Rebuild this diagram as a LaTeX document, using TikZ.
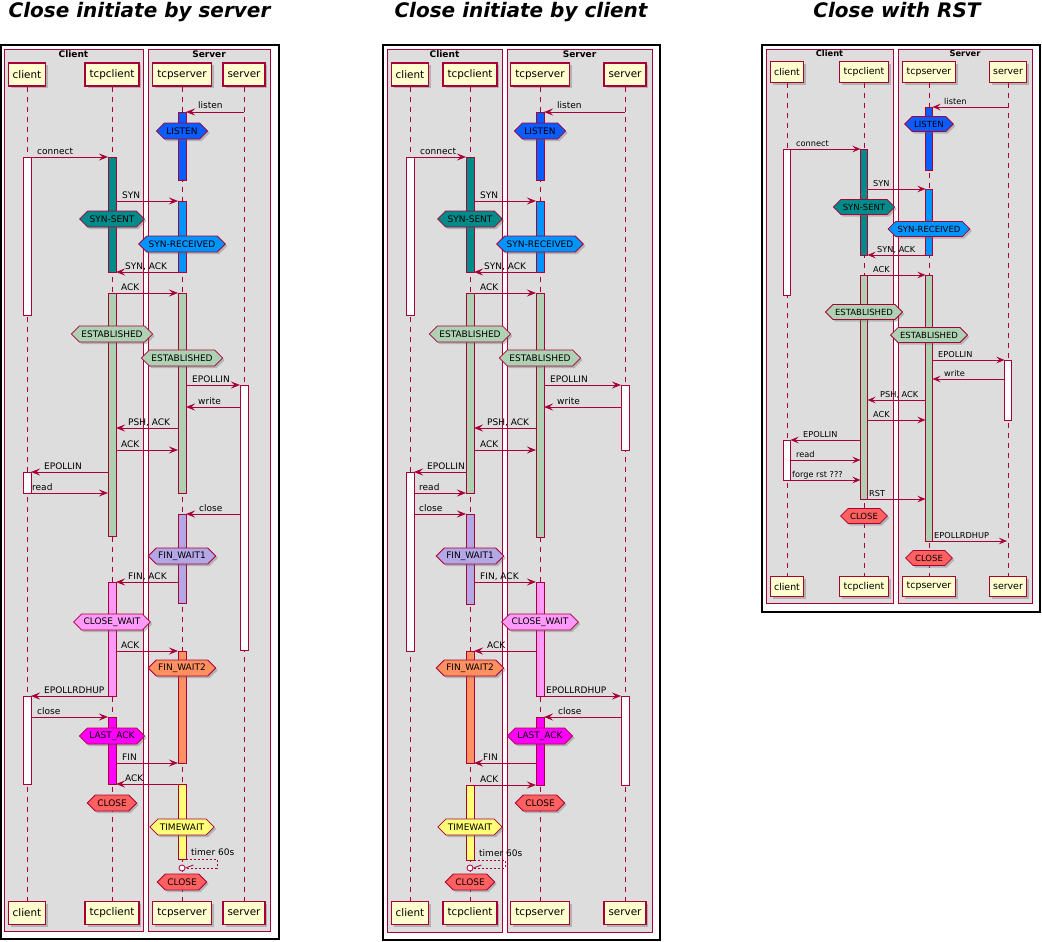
\documentclass[tikz,border=0pt]{standalone}
\usepackage{fontspec}
\setmainfont{DejaVu Sans}[BoldFont={DejaVu Sans Bold},ItalicFont={DejaVu Sans Oblique},BoldItalicFont={DejaVu Sans Bold Oblique}]
\usetikzlibrary{calc,shapes.symbols,shadows,arrows.meta}

\definecolor{ucred}{HTML}{A80036}
\definecolor{partfill}{HTML}{FEFECE}
\definecolor{boxfill}{HTML}{DDDDDD}
\definecolor{stlisten}{HTML}{0A5CFF}
\definecolor{stsynsent}{HTML}{008B8B}
\definecolor{stsynrecv}{HTML}{0094FF}
\definecolor{stestab}{HTML}{ADD1B2}
\definecolor{stfinwaita}{HTML}{B4A7E5}
\definecolor{stclosewait}{HTML}{FF99FA}
\definecolor{stfinwaitb}{HTML}{FF9060}
\definecolor{stlastack}{HTML}{FF00FF}
\definecolor{stclose}{HTML}{FF6060}
\definecolor{sttimewait}{HTML}{FFFF77}

\tikzset{
  frame/.style={draw=black, line width=1.6pt},
  grpbox/.style={draw=ucred, fill=boxfill, line width=0.8pt},
  grplabel/.style={font=\fontsize{9}{10}\selectfont\bfseries, anchor=base, inner sep=0pt},
  title/.style={font=\fontsize{20}{24}\selectfont\bfseries\itshape, anchor=base, inner sep=0pt},
  part/.style={draw=ucred, fill=partfill, line width=1.1pt, minimum height=23pt,
    inner xsep=4.5pt, inner ysep=0pt, font=\fontsize{10.4}{12}\selectfont,
    drop shadow={shadow xshift=2.5pt, shadow yshift=-2.5pt, opacity=0.35, fill=black!60}},
  lifeline/.style={draw=ucred, line width=0.8pt, dash pattern=on 5pt off 5pt},
  actbox/.style={draw=ucred, line width=0.8pt},
  msg/.style={draw=ucred, line width=0.9pt, -{Stealth[length=9pt,width=7pt,inset=3.5pt]}},
  msglabel/.style={font=\fontsize{9}{10}\selectfont, anchor=base west, inner sep=0pt},
  hexa/.style={signal, signal to=west and east, draw=ucred, line width=0.8pt,
    minimum height=16pt, inner xsep=2pt, inner ysep=0pt, font=\fontsize{9}{10}\selectfont,
    drop shadow={shadow xshift=2pt, shadow yshift=-2pt, opacity=0.35, fill=black!60}},
  selfmsg/.style={draw=ucred, line width=0.8pt, dash pattern=on 2pt off 2pt},
  endcirc/.style={circle, draw=ucred, fill=white, line width=0.8pt, minimum size=6pt, inner sep=0pt}
}

\newcounter{lbl}
\newcommand{\bw}{4}
% activation bar: lifeline, from y, to y, colour
\newcommand{\actbar}[4]{\draw[actbox, fill=#4] ($(#1 |- 0,#2)+(-\bw,0)$) rectangle ($(#1 |- 0,#3)+(\bw,0)$);}
% message: from, dx, to, dx, y, label x, label
\newcommand{\sendmsg}[7]{\draw[msg] ($(#1 |- 0,#5)+(#2,0)$) -- ($(#3 |- 0,#5)+(#4,0)$);
  \stepcounter{lbl}\node[msglabel] (lbl\arabic{lbl}) at (#6,#5-3) {#7};}
% state hexagon: name, lifeline, y, colour, text
\newcommand{\tcpstate}[5]{\node[hexa, fill=#4] (#1) at (#2 |- 0,#3) {#5};}

\begin{document}
\begin{tikzpicture}[x=1pt,y=-1pt]
\useasboundingbox (0,0) rectangle (1042,942);

%% close initiate by server
\node[title] (ta) at (139.5,17.5) {Close initiate by server};
\draw[frame] (1,45) rectangle (279,939);
\draw[grpbox] (4,49) rectangle (143,931);
\draw[grpbox] (148,49) rectangle (270,931);
\node[grplabel] (gaC) at (73.5,57.5) {Client};
\node[grplabel] (gaS) at (209,57.5) {Server};
\begin{scope}[every node/.style={part}]
\node (aC) at (27,74.5) {client};
\node (aTC) at (112,74.5) {tcpclient};
\node (aTS) at (182,74.5) {tcpserver};
\node (aS) at (244,74.5) {server};
\node (aC2) at (27,913) {client};
\node (aTC2) at (112,913) {tcpclient};
\node (aTS2) at (182,913) {tcpserver};
\node (aS2) at (244,913) {server};
\end{scope}
\draw[lifeline] (aC) -- (aC2);
\draw[lifeline] (aTC) -- (aTC2);
\draw[lifeline] (aTS) -- (aTS2);
\draw[lifeline] (aS) -- (aS2);
\actbar{aTS}{112}{180}{stlisten}
\actbar{aC}{157}{315}{white}
\actbar{aTC}{157}{272}{stsynsent}
\actbar{aTS}{201}{272}{stsynrecv}
\actbar{aTC}{293}{536}{stestab}
\actbar{aTS}{293}{493}{stestab}
\actbar{aS}{385}{650}{white}
\actbar{aC}{472}{493}{white}
\actbar{aTS}{514}{603}{stfinwaita}
\actbar{aTC}{582}{696}{stclosewait}
\actbar{aTS}{651}{763}{stfinwaitb}
\actbar{aC}{696}{784}{white}
\actbar{aTC}{717}{784}{stlastack}
\actbar{aTS}{784}{859}{sttimewait}
\sendmsg{aS}{0}{aTS}{4}{112}{198}{listen}
\sendmsg{aC}{4}{aTC}{-4}{157}{37}{connect}
\sendmsg{aTC}{4}{aTS}{-4}{201}{122}{SYN}
\sendmsg{aTS}{-4}{aTC}{4}{272}{125}{SYN, ACK}
\sendmsg{aTC}{4}{aTS}{-4}{293}{121}{ACK}
\sendmsg{aTS}{4}{aS}{-4}{385}{192}{EPOLLIN}
\sendmsg{aS}{-4}{aTS}{4}{407}{198}{write}
\sendmsg{aTS}{-4}{aTC}{4}{428}{128}{PSH, ACK}
\sendmsg{aTC}{4}{aTS}{-4}{450}{121}{ACK}
\sendmsg{aTC}{-4}{aC}{4}{472}{44}{EPOLLIN}
\sendmsg{aC}{4}{aTC}{-4}{493}{32}{read}
\sendmsg{aS}{-4}{aTS}{4}{514}{199}{close}
\sendmsg{aTS}{-4}{aTC}{4}{582}{128}{FIN, ACK}
\sendmsg{aTC}{4}{aTS}{-4}{651}{121}{ACK}
\sendmsg{aTC}{-4}{aC}{4}{696}{44}{EPOLLRDHUP}
\sendmsg{aC}{4}{aTC}{-4}{717}{37}{close}
\sendmsg{aTC}{4}{aTS}{-4}{763}{122}{FIN}
\sendmsg{aTS}{-4}{aTC}{4}{784}{125}{ACK}
\node[endcirc] (aTe) at (aTS |- 0,868) {};
\draw[selfmsg] ($(aTS |- 0,859)+(4,0)$) -- (217,859) -- (217,868) -- (aTe);
\draw[ucred, line width=0.8pt] (aTe.east) -- ++(8,-3);
\node[msglabel] (aTl) at (191,855) {timer 60s};
\tcpstate{aH1}{aTS}{131}{stlisten}{LISTEN}
\tcpstate{aH2}{aTC}{219}{stsynsent}{SYN-SENT}
\tcpstate{aH3}{aTS}{244}{stsynrecv}{SYN-RECEIVED}
\tcpstate{aH4}{aTC}{334}{stestab}{ESTABLISHED}
\tcpstate{aH5}{aTS}{358}{stestab}{ESTABLISHED}
\tcpstate{aH6}{aTS}{556}{stfinwaita}{FIN\_WAIT1}
\tcpstate{aH7}{aTC}{622}{stclosewait}{CLOSE\_WAIT}
\tcpstate{aH8}{aTS}{668}{stfinwaitb}{FIN\_WAIT2}
\tcpstate{aH9}{aTC}{736}{stlastack}{LAST\_ACK}
\tcpstate{aH10}{aTC}{803}{stclose}{CLOSE}
\tcpstate{aH11}{aTS}{827}{sttimewait}{TIMEWAIT}
\tcpstate{aH12}{aTS}{882}{stclose}{CLOSE}

%% close initiate by client
\node[title] (tb) at (521,17.5) {Close initiate by client};
\draw[frame] (383,45) rectangle (660,940);
\draw[grpbox] (387,49) rectangle (502,932);
\draw[grpbox] (507,49) rectangle (652,932);
\node[grplabel] (gbC) at (444.5,57.5) {Client};
\node[grplabel] (gbS) at (579.5,57.5) {Server};
\begin{scope}[every node/.style={part}]
\node (bC) at (410,74.5) {client};
\node (bTC) at (470,74.5) {tcpclient};
\node (bTS) at (540,74.5) {tcpserver};
\node (bS) at (625,74.5) {server};
\node (bC2) at (410,913) {client};
\node (bTC2) at (470,913) {tcpclient};
\node (bTS2) at (540,913) {tcpserver};
\node (bS2) at (625,913) {server};
\end{scope}
\draw[lifeline] (bC) -- (bC2);
\draw[lifeline] (bTC) -- (bTC2);
\draw[lifeline] (bTS) -- (bTS2);
\draw[lifeline] (bS) -- (bS2);
\actbar{bTS}{112}{180}{stlisten}
\actbar{bC}{157}{315}{white}
\actbar{bTC}{157}{272}{stsynsent}
\actbar{bTS}{201}{272}{stsynrecv}
\actbar{bTC}{293}{493}{stestab}
\actbar{bTS}{293}{537}{stestab}
\actbar{bS}{385}{450}{white}
\actbar{bC}{472}{651}{white}
\actbar{bTC}{514}{604}{stfinwaita}
\actbar{bTS}{582}{696}{stclosewait}
\actbar{bTC}{651}{763}{stfinwaitb}
\actbar{bS}{696}{785}{white}
\actbar{bTS}{717}{785}{stlastack}
\actbar{bTC}{785}{860}{sttimewait}
\sendmsg{bS}{0}{bTS}{4}{112}{557}{listen}
\sendmsg{bC}{4}{bTC}{-4}{157}{420}{connect}
\sendmsg{bTC}{4}{bTS}{-4}{201}{480}{SYN}
\sendmsg{bTS}{-4}{bTC}{4}{272}{484}{SYN, ACK}
\sendmsg{bTC}{4}{bTS}{-4}{293}{480}{ACK}
\sendmsg{bTS}{4}{bS}{-4}{385}{550}{EPOLLIN}
\sendmsg{bS}{-4}{bTS}{4}{407}{557}{write}
\sendmsg{bTS}{-4}{bTC}{4}{428}{487}{PSH, ACK}
\sendmsg{bTC}{4}{bTS}{-4}{450}{480}{ACK}
\sendmsg{bTC}{-4}{bC}{4}{472}{427}{EPOLLIN}
\sendmsg{bC}{4}{bTC}{-4}{493}{419}{read}
\sendmsg{bC}{4}{bTC}{-4}{514}{419}{close}
\sendmsg{bTC}{4}{bTS}{-4}{582}{480}{FIN, ACK}
\sendmsg{bTS}{-4}{bTC}{4}{651}{487}{ACK}
\sendmsg{bTS}{4}{bS}{-4}{696}{546}{EPOLLRDHUP}
\sendmsg{bS}{-4}{bTS}{4}{717}{558}{close}
\sendmsg{bTS}{-4}{bTC}{4}{763}{483}{FIN}
\sendmsg{bTC}{4}{bTS}{-4}{785}{480}{ACK}
\node[endcirc] (bTe) at (bTC |- 0,868) {};
\draw[selfmsg] ($(bTC |- 0,860)+(4,0)$) -- (505,860) -- (505,868) -- (bTe);
\draw[ucred, line width=0.8pt] (bTe.east) -- ++(8,-3);
\node[msglabel] (bTl) at (479,856) {timer 60s};
\tcpstate{bH1}{bTS}{131}{stlisten}{LISTEN}
\tcpstate{bH2}{bTC}{219}{stsynsent}{SYN-SENT}
\tcpstate{bH3}{bTS}{244}{stsynrecv}{SYN-RECEIVED}
\tcpstate{bH4}{bTC}{334}{stestab}{ESTABLISHED}
\tcpstate{bH5}{bTS}{358}{stestab}{ESTABLISHED}
\tcpstate{bH6}{bTC}{556}{stfinwaita}{FIN\_WAIT1}
\tcpstate{bH7}{bTS}{622}{stclosewait}{CLOSE\_WAIT}
\tcpstate{bH8}{bTC}{668}{stfinwaitb}{FIN\_WAIT2}
\tcpstate{bH9}{bTS}{736}{stlastack}{LAST\_ACK}
\tcpstate{bH10}{bTS}{803}{stclose}{CLOSE}
\tcpstate{bH11}{bTC}{827}{sttimewait}{TIMEWAIT}
\tcpstate{bH12}{bTC}{882}{stclose}{CLOSE}

%% close with RST
\node[title] (tc) at (897,17.5) {Close with RST};
\draw[frame] (762,45) rectangle (1040,612);
\begin{scope}[msglabel/.append style={font=\fontsize{8.2}{9}\selectfont},
  part/.append style={minimum height=20.5pt, inner xsep=4pt, font=\fontsize{9.4}{11}\selectfont},
  hexa/.append style={minimum height=15pt, font=\fontsize{8.5}{9}\selectfont},
  grplabel/.append style={font=\fontsize{8.3}{9}\selectfont\bfseries},
  msg/.append style={-{Stealth[length=8pt,width=6.5pt,inset=3pt]}}]
\renewcommand{\bw}{3.5}
\draw[grpbox] (766,49) rectangle (893,603);
\draw[grpbox] (898,49) rectangle (1032,603);
\node[grplabel] (gcC) at (829.5,56.7) {Client};
\node[grplabel] (gcS) at (965,56.7) {Server};
\begin{scope}[every node/.style={part}]
\node (cC) at (787,72) {client};
\node (cTC) at (864,72) {tcpclient};
\node (cTS) at (929,72) {tcpserver};
\node (cS) at (1008,72) {server};
\node (cC2) at (787,586.5) {client};
\node (cTC2) at (864,586.5) {tcpclient};
\node (cTS2) at (929,586.5) {tcpserver};
\node (cS2) at (1008,586.5) {server};
\end{scope}
\draw[lifeline] (cC) -- (cC2);
\draw[lifeline] (cTC) -- (cTC2);
\draw[lifeline] (cTS) -- (cTS2);
\draw[lifeline] (cS) -- (cS2);
\actbar{cTS}{107}{170}{stlisten}
\actbar{cC}{149}{295}{white}
\actbar{cTC}{149}{255}{stsynsent}
\actbar{cTS}{189}{255}{stsynrecv}
\actbar{cTC}{275}{499}{stestab}
\actbar{cTS}{275}{541}{stestab}
\actbar{cS}{360}{420}{white}
\actbar{cC}{440}{480}{white}
\sendmsg{cS}{0}{cTS}{3.5}{107}{944}{listen}
\sendmsg{cC}{3.5}{cTC}{-3.5}{149}{796}{connect}
\sendmsg{cTC}{3.5}{cTS}{-3.5}{189}{873}{SYN}
\sendmsg{cTS}{-3.5}{cTC}{3.5}{255}{877}{SYN, ACK}
\sendmsg{cTC}{3.5}{cTS}{-3.5}{275}{873}{ACK}
\sendmsg{cTS}{3.5}{cS}{-3.5}{360}{938}{EPOLLIN}
\sendmsg{cS}{-3.5}{cTS}{3.5}{379}{944}{write}
\sendmsg{cTS}{-3.5}{cTC}{3.5}{400}{880}{PSH, ACK}
\sendmsg{cTC}{3.5}{cTS}{-3.5}{420}{873}{ACK}
\sendmsg{cTC}{-3.5}{cC}{3.5}{440}{803}{EPOLLIN}
\sendmsg{cC}{3.5}{cTC}{-3.5}{460}{796}{read}
\sendmsg{cC}{3.5}{cTC}{-3.5}{480}{792}{forge rst ???}
\sendmsg{cTC}{3.5}{cTS}{-3.5}{499}{869}{RST}
\sendmsg{cTS}{3.5}{cS}{-1}{541}{934}{EPOLLRDHUP}
\tcpstate{cH1}{cTS}{124}{stlisten}{LISTEN}
\tcpstate{cH2}{cTC}{207}{stsynsent}{SYN-SENT}
\tcpstate{cH3}{cTS}{229}{stsynrecv}{SYN-RECEIVED}
\tcpstate{cH4}{cTC}{312}{stestab}{ESTABLISHED}
\tcpstate{cH5}{cTS}{335}{stestab}{ESTABLISHED}
\tcpstate{cH6}{cTC}{516}{stclose}{CLOSE}
\tcpstate{cH7}{cTS}{558}{stclose}{CLOSE}
\end{scope}
\end{tikzpicture}
\end{document}
